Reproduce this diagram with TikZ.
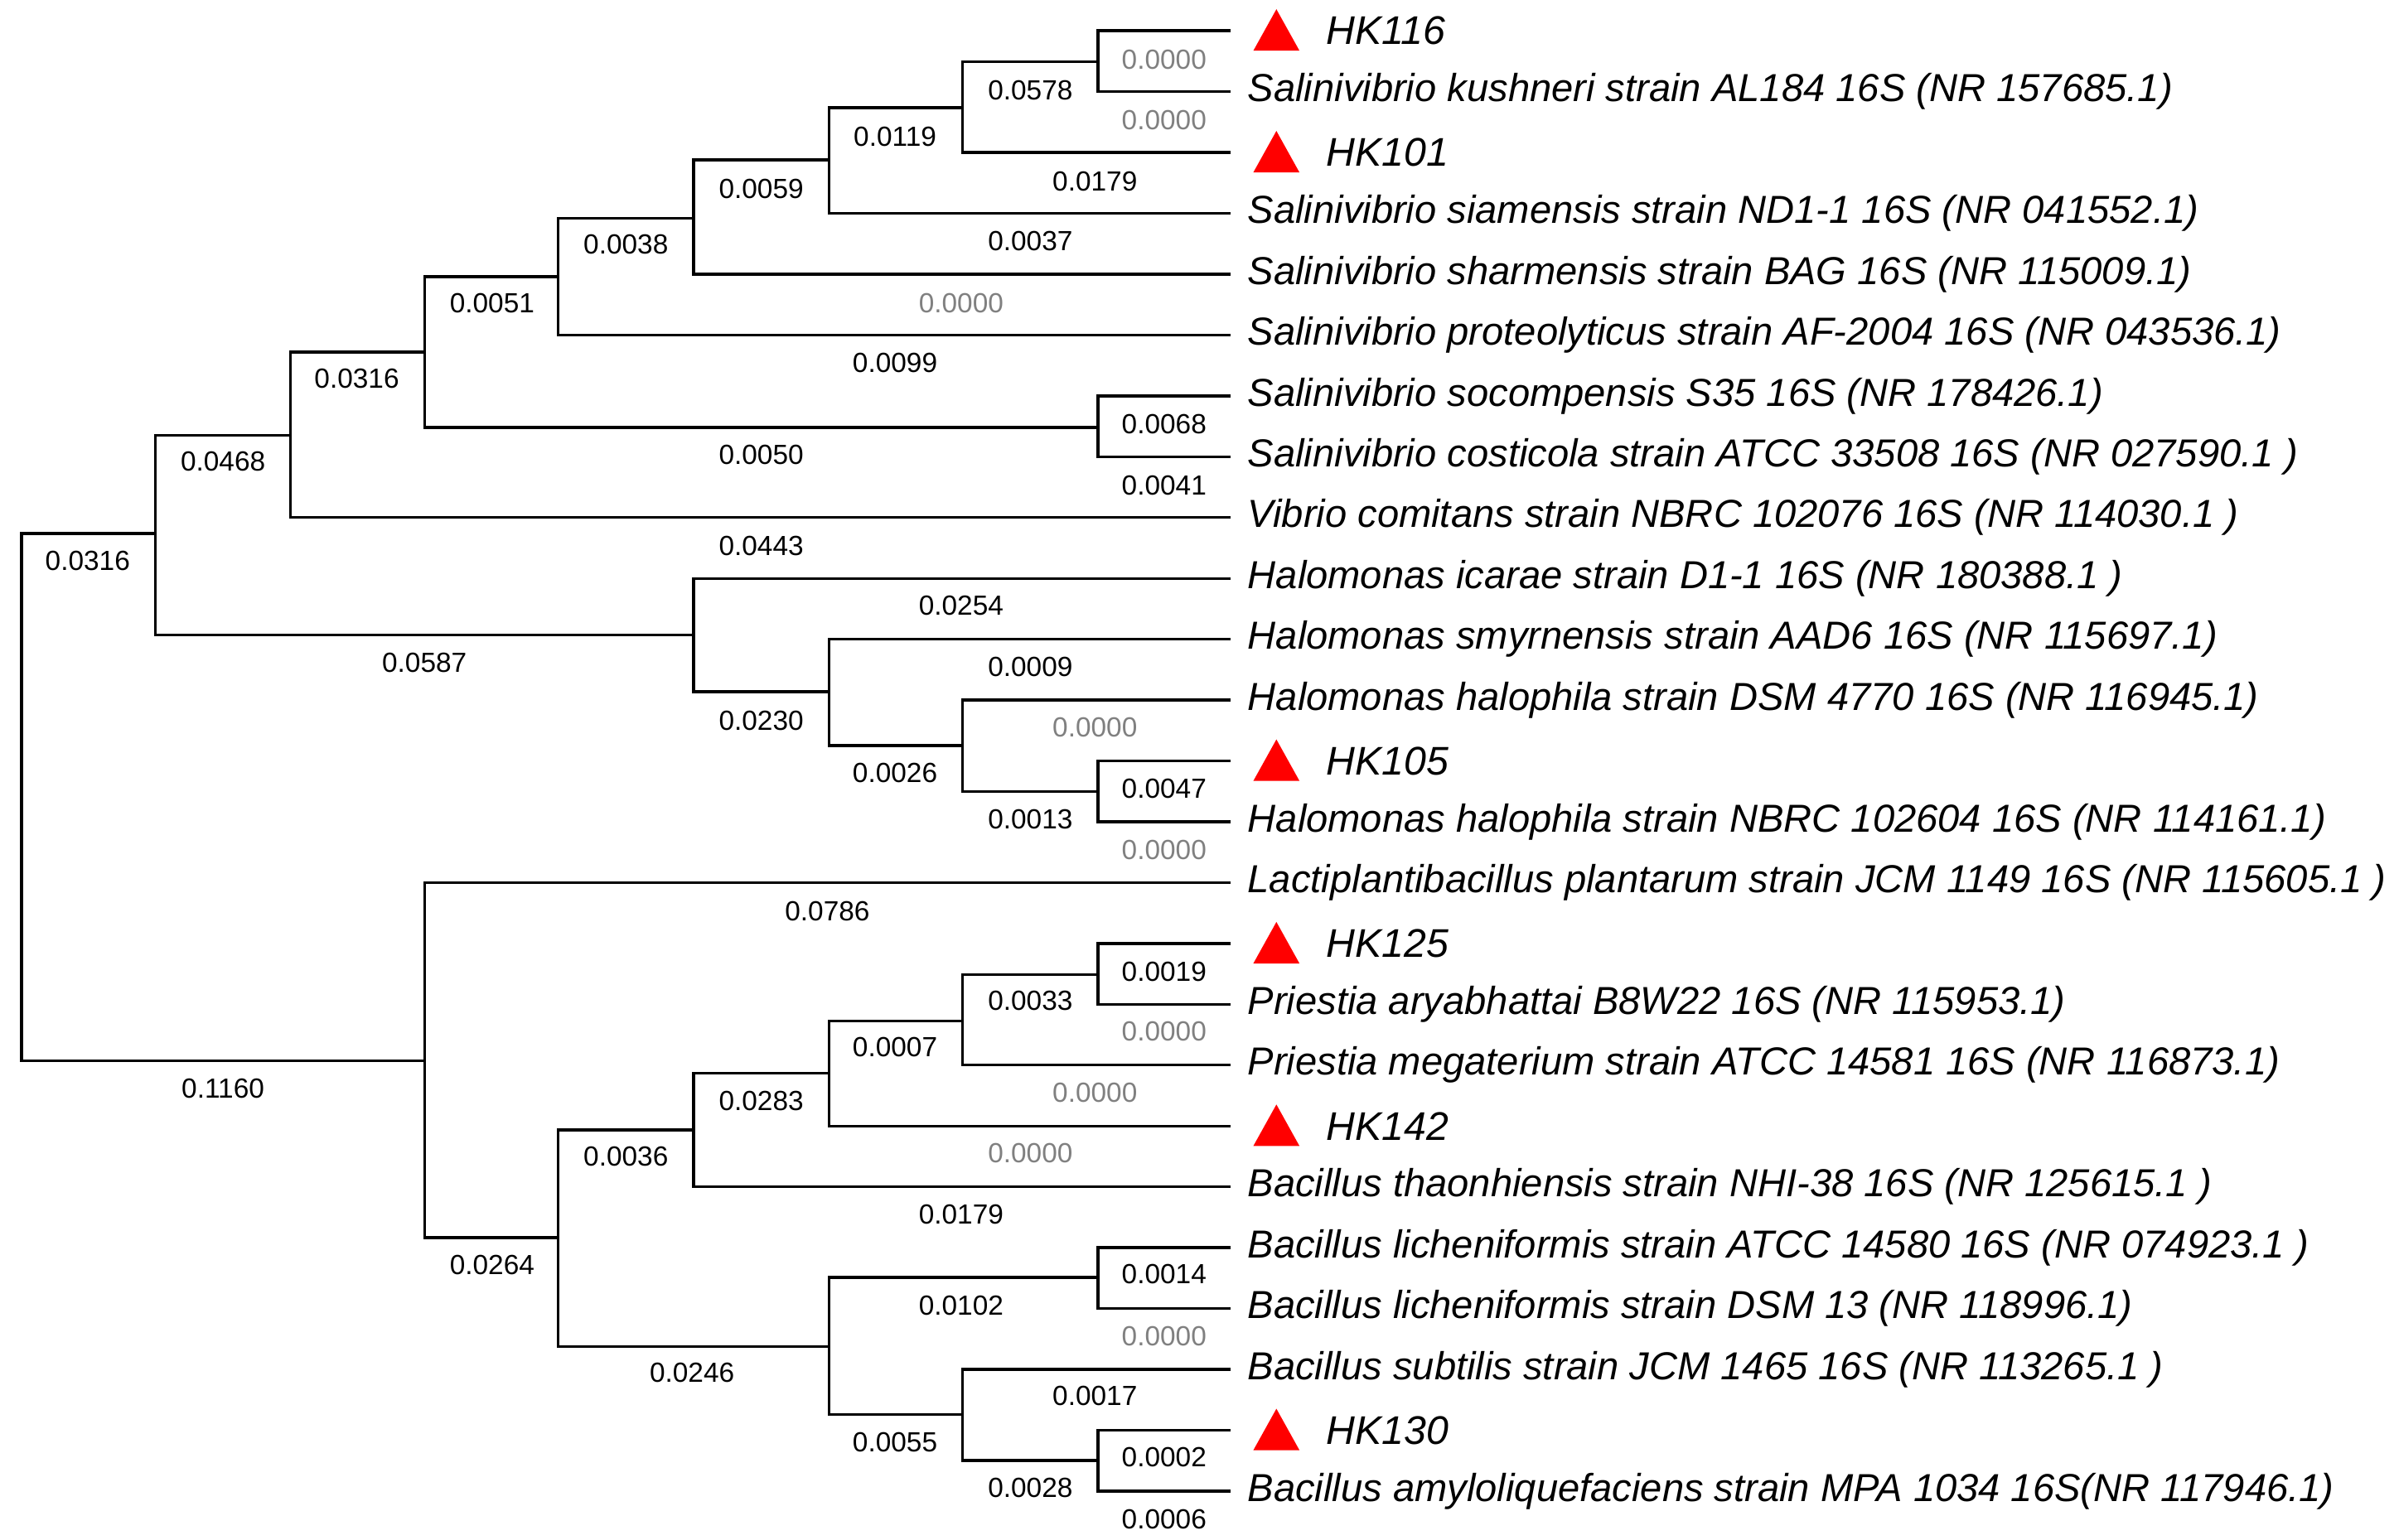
\documentclass[tikz,border=0pt]{standalone}
\usepackage{fontspec}
\setmainfont{Liberation Sans}
\begin{document}
\begin{tikzpicture}[x=0.5pt,y=-0.5pt,
  br/.style={line width=0.9pt},
  num/.style={font=\fontsize{9}{10}\selectfont, inner sep=0pt},
  zer/.style={num, text=gray},
  leaf/.style={font=\fontsize{12.7}{14}\selectfont\itshape, anchor=west, inner sep=0pt},
  hk/.style={font=\fontsize{13}{14}\selectfont\itshape, anchor=west, inner sep=0pt},
  tri/.style={fill=red, draw=none}]
\useasboundingbox (0,0) rectangle (1560,1001.6);
% leaves: y = 20 + 39.58 i
\foreach \i/\n in {0/l0,1/l1,2/l2,3/l3,4/l4,5/l5,6/l6,7/l7,8/l8,9/l9,10/l10,11/l11,12/l12,13/l13,14/l14,15/l15,16/l16,17/l17,18/l18,19/l19,20/l20,21/l21,22/l22,23/l23,24/l24}
  \coordinate (\n) at (800,{20+39.58*\i});
% leaf labels
\foreach \n/\t in {l1/{Salinivibrio kushneri strain AL184 16S (NR 157685.1)},
 l3/{Salinivibrio siamensis strain ND1-1 16S (NR 041552.1)},
 l4/{Salinivibrio sharmensis strain BAG 16S (NR 115009.1)},
 l5/{Salinivibrio proteolyticus strain AF-2004 16S (NR 043536.1)},
 l6/{Salinivibrio socompensis S35 16S (NR 178426.1)},
 l7/{Salinivibrio costicola strain ATCC 33508 16S (NR 027590.1 )},
 l8/{Vibrio comitans strain NBRC 102076 16S (NR 114030.1 )},
 l9/{Halomonas icarae strain D1-1 16S (NR 180388.1 )},
 l10/{Halomonas smyrnensis strain AAD6 16S (NR 115697.1)},
 l11/{Halomonas halophila strain DSM 4770 16S (NR 116945.1)},
 l13/{Halomonas halophila strain NBRC 102604 16S (NR 114161.1)},
 l14/{Lactiplantibacillus plantarum strain JCM 1149 16S (NR 115605.1 )},
 l16/{Priestia aryabhattai B8W22 16S (NR 115953.1)},
 l17/{Priestia megaterium strain ATCC 14581 16S (NR 116873.1)},
 l19/{Bacillus thaonhiensis strain NHI-38 16S (NR 125615.1 )},
 l20/{Bacillus licheniformis strain ATCC 14580 16S (NR 074923.1 )},
 l21/{Bacillus licheniformis strain DSM 13 (NR 118996.1)},
 l22/{Bacillus subtilis strain JCM 1465 16S (NR 113265.1 )},
 l24/{Bacillus amyloliquefaciens strain MPA 1034 16S(NR 117946.1)}}
  \node[leaf] (t\n) at ([xshift=5.5pt]\n) {\t};
\foreach \n/\t in {l0/HK116,l2/HK101,l12/HK105,l15/HK125,l18/HK142,l23/HK130}{
  \fill[tri] ([xshift=7.5pt,yshift=-6.5pt]\n) -- ([xshift=22.5pt,yshift=-6.5pt]\n) -- ([xshift=15pt,yshift=7pt]\n) -- cycle;
  \node[hk] (t\n) at ([xshift=31pt]\n) {\t};}
% internal nodes
\coordinate (I) at (714,40);
\coordinate (Hn) at (626,70);
\coordinate (G) at (539,104);
\coordinate (F) at (451,142);
\coordinate (D) at (363,180);
\coordinate (C) at (276,229);
\coordinate (E) at (714,278);
\coordinate (B) at (189,283);
\coordinate (A) at (101,347);
\coordinate (L) at (714,515);
\coordinate (K) at (626,485);
\coordinate (J) at (539,450);
\coordinate (H) at (451,413);
\coordinate (S) at (714,634);
\coordinate (R) at (626,664);
\coordinate (Q) at (539,698);
\coordinate (O) at (451,735);
\coordinate (T) at (714,831);
\coordinate (V) at (714,950);
\coordinate (U) at (626,920);
\coordinate (P) at (539,876);
\coordinate (N) at (363,805);
\coordinate (M) at (276,690);
\coordinate (Root) at (14,518);
\begin{scope}[br]
\draw (I) |- (l0); \draw (I) |- (l1);
\draw (Hn) |- (I); \draw (Hn) |- (l2);
\draw (G) |- (Hn); \draw (G) |- (l3);
\draw (F) |- (G); \draw (F) |- (l4);
\draw (D) |- (F); \draw (D) |- (l5);
\draw (E) |- (l6); \draw (E) |- (l7);
\draw (C) |- (D); \draw (C) |- (E);
\draw (B) |- (C); \draw (B) |- (l8);
\draw (L) |- (l12); \draw (L) |- (l13);
\draw (K) |- (l11); \draw (K) |- (L);
\draw (J) |- (l10); \draw (J) |- (K);
\draw (H) |- (l9); \draw (H) |- (J);
\draw (A) |- (B); \draw (A) |- (H);
\draw (S) |- (l15); \draw (S) |- (l16);
\draw (R) |- (S); \draw (R) |- (l17);
\draw (Q) |- (R); \draw (Q) |- (l18);
\draw (O) |- (Q); \draw (O) |- (l19);
\draw (T) |- (l20); \draw (T) |- (l21);
\draw (V) |- (l23); \draw (V) |- (l24);
\draw (U) |- (l22); \draw (U) |- (V);
\draw (P) |- (T); \draw (P) |- (U);
\draw (N) |- (O); \draw (N) |- (P);
\draw (M) |- (l14); \draw (M) |- (N);
\draw (Root) |- (A); \draw (Root) |- (M);
\end{scope}
% branch labels
\node[zer] at (757,39) {0.0000};
\node[zer] at (757,78) {0.0000};
\node[num] at (670,59) {0.0578};
\node[num] at (712,118) {0.0179};
\node[num] at (582,89) {0.0119};
\node[num] at (670,157) {0.0037};
\node[num] at (495,123) {0.0059};
\node[zer] at (625,197) {0.0000};
\node[num] at (407,159) {0.0038};
\node[num] at (582,236) {0.0099};
\node[num] at (320,197) {0.0051};
\node[num] at (495,296) {0.0050};
\node[num] at (757,276) {0.0068};
\node[num] at (757,316) {0.0041};
\node[num] at (232,246) {0.0316};
\node[num] at (495,355) {0.0443};
\node[num] at (145,300) {0.0468};
\node[num] at (276,431) {0.0587};
\node[num] at (57,365) {0.0316};
\node[num] at (625,394) {0.0254};
\node[num] at (495,469) {0.0230};
\node[num] at (670,434) {0.0009};
\node[num] at (582,503) {0.0026};
\node[zer] at (712,473) {0.0000};
\node[num] at (670,533) {0.0013};
\node[num] at (757,513) {0.0047};
\node[zer] at (757,553) {0.0000};
\node[num] at (145,708) {0.1160};
\node[num] at (538,593) {0.0786};
\node[num] at (320,823) {0.0264};
\node[num] at (757,632) {0.0019};
\node[zer] at (757,671) {0.0000};
\node[num] at (670,651) {0.0033};
\node[zer] at (712,711) {0.0000};
\node[num] at (582,681) {0.0007};
\node[zer] at (670,750) {0.0000};
\node[num] at (495,716) {0.0283};
\node[num] at (625,790) {0.0179};
\node[num] at (407,752) {0.0036};
\node[num] at (450,893) {0.0246};
\node[num] at (757,829) {0.0014};
\node[zer] at (757,869) {0.0000};
\node[num] at (625,849) {0.0102};
\node[num] at (712,908) {0.0017};
\node[num] at (582,938) {0.0055};
\node[num] at (757,948) {0.0002};
\node[num] at (670,968) {0.0028};
\node[num] at (757,988) {0.0006};
\end{tikzpicture}
\end{document}
